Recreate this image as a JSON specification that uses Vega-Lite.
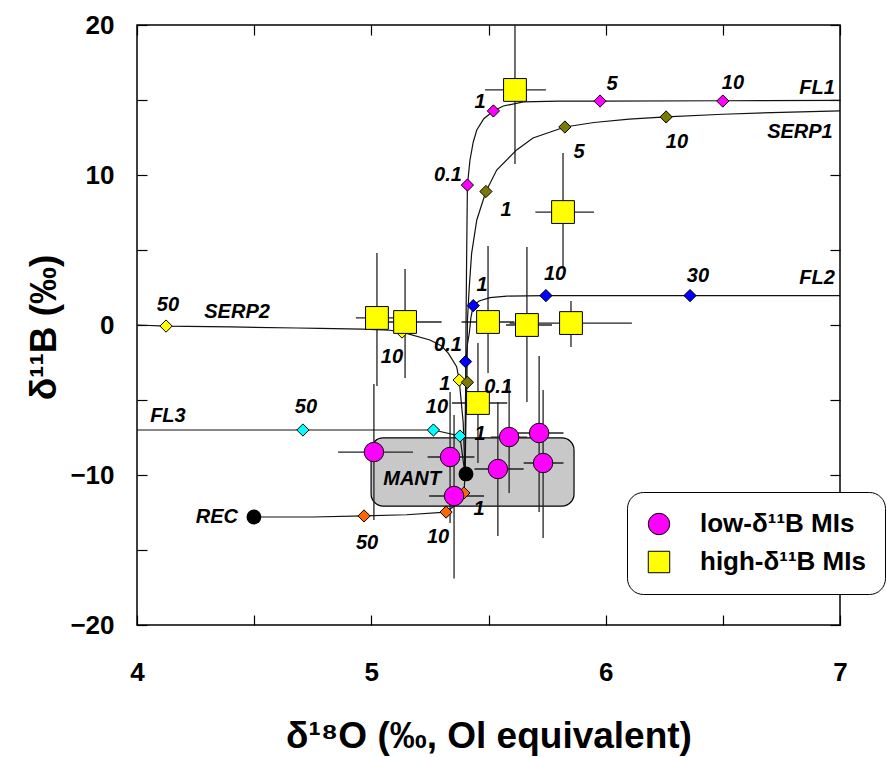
{
  "$schema": "https://vega.github.io/schema/vega-lite/v6.json",
  "width": 703,
  "height": 600,
  "autosize": {"type": "none"},
  "padding": {"left": 137, "top": 25, "right": 47, "bottom": 132},
  "config": {
    "font": "Liberation Sans",
    "view": {"stroke": "black", "strokeWidth": 1.5},
    "axis": {"grid": false, "domain": false}
  },
  "datasets": {
    "mant": [{"x1": 4.999, "x2": 5.865, "y1": -12.07, "y2": -7.53}],
    "curves": [
      {"s": "FL1", "i": 0, "x": 5.40, "y": -10}, {"s": "FL1", "i": 1, "x": 5.404, "y": 0}, {"s": "FL1", "i": 2, "x": 5.407, "y": 5}, {"s": "FL1", "i": 3, "x": 5.41, "y": 9.33}, {"s": "FL1", "i": 4, "x": 5.421, "y": 11.0}, {"s": "FL1", "i": 5, "x": 5.435, "y": 12.2}, {"s": "FL1", "i": 6, "x": 5.45, "y": 13.0}, {"s": "FL1", "i": 7, "x": 5.48, "y": 13.75}, {"s": "FL1", "i": 8, "x": 5.521, "y": 14.27}, {"s": "FL1", "i": 9, "x": 5.563, "y": 14.6}, {"s": "FL1", "i": 10, "x": 5.649, "y": 14.87}, {"s": "FL1", "i": 11, "x": 5.8, "y": 14.92}, {"s": "FL1", "i": 12, "x": 5.976, "y": 14.93}, {"s": "FL1", "i": 13, "x": 6.5, "y": 14.95}, {"s": "FL1", "i": 14, "x": 7.0, "y": 14.97},
      {"s": "SERP1", "i": 0, "x": 5.40, "y": -10}, {"s": "SERP1", "i": 1, "x": 5.404, "y": -6}, {"s": "SERP1", "i": 2, "x": 5.408, "y": -3.8}, {"s": "SERP1", "i": 3, "x": 5.41, "y": 0.3}, {"s": "SERP1", "i": 4, "x": 5.418, "y": 2.56}, {"s": "SERP1", "i": 5, "x": 5.428, "y": 4.78}, {"s": "SERP1", "i": 6, "x": 5.45, "y": 7.0}, {"s": "SERP1", "i": 7, "x": 5.489, "y": 8.9}, {"s": "SERP1", "i": 8, "x": 5.535, "y": 10.33}, {"s": "SERP1", "i": 9, "x": 5.62, "y": 11.67}, {"s": "SERP1", "i": 10, "x": 5.69, "y": 12.47}, {"s": "SERP1", "i": 11, "x": 5.826, "y": 13.2}, {"s": "SERP1", "i": 12, "x": 5.95, "y": 13.5}, {"s": "SERP1", "i": 13, "x": 6.1, "y": 13.72}, {"s": "SERP1", "i": 14, "x": 6.258, "y": 13.87}, {"s": "SERP1", "i": 15, "x": 6.5, "y": 14.05}, {"s": "SERP1", "i": 16, "x": 6.75, "y": 14.18}, {"s": "SERP1", "i": 17, "x": 7.0, "y": 14.27},
      {"s": "FL2", "i": 0, "x": 5.40, "y": -10}, {"s": "FL2", "i": 1, "x": 5.402, "y": -5}, {"s": "FL2", "i": 2, "x": 5.404, "y": -2.47}, {"s": "FL2", "i": 3, "x": 5.41, "y": -1.3}, {"s": "FL2", "i": 4, "x": 5.418, "y": -0.55}, {"s": "FL2", "i": 5, "x": 5.425, "y": 0.5}, {"s": "FL2", "i": 6, "x": 5.435, "y": 1.29}, {"s": "FL2", "i": 7, "x": 5.46, "y": 1.6}, {"s": "FL2", "i": 8, "x": 5.506, "y": 1.82}, {"s": "FL2", "i": 9, "x": 5.578, "y": 1.93}, {"s": "FL2", "i": 10, "x": 5.745, "y": 1.96}, {"s": "FL2", "i": 11, "x": 6.36, "y": 1.96}, {"s": "FL2", "i": 12, "x": 7.0, "y": 1.96},
      {"s": "SERP2", "i": 0, "x": 4.0, "y": 0.0}, {"s": "SERP2", "i": 1, "x": 4.124, "y": -0.07}, {"s": "SERP2", "i": 2, "x": 4.4, "y": -0.13}, {"s": "SERP2", "i": 3, "x": 4.683, "y": -0.2}, {"s": "SERP2", "i": 4, "x": 4.78, "y": -0.22}, {"s": "SERP2", "i": 5, "x": 4.96, "y": -0.27}, {"s": "SERP2", "i": 6, "x": 5.08, "y": -0.35}, {"s": "SERP2", "i": 7, "x": 5.131, "y": -0.47}, {"s": "SERP2", "i": 8, "x": 5.25, "y": -1.0}, {"s": "SERP2", "i": 9, "x": 5.30, "y": -1.4}, {"s": "SERP2", "i": 10, "x": 5.329, "y": -1.89}, {"s": "SERP2", "i": 11, "x": 5.364, "y": -2.78}, {"s": "SERP2", "i": 12, "x": 5.375, "y": -3.67}, {"s": "SERP2", "i": 13, "x": 5.392, "y": -6.5}, {"s": "SERP2", "i": 14, "x": 5.40, "y": -10},
      {"s": "FL3", "i": 0, "x": 4.0, "y": -7.0}, {"s": "FL3", "i": 1, "x": 4.708, "y": -7.0}, {"s": "FL3", "i": 2, "x": 5.265, "y": -7.0}, {"s": "FL3", "i": 3, "x": 5.378, "y": -7.4}, {"s": "FL3", "i": 4, "x": 5.40, "y": -10},
      {"s": "REC", "i": 0, "x": 4.499, "y": -12.8}, {"s": "REC", "i": 1, "x": 4.75, "y": -12.8}, {"s": "REC", "i": 2, "x": 4.969, "y": -12.73}, {"s": "REC", "i": 3, "x": 5.15, "y": -12.65}, {"s": "REC", "i": 4, "x": 5.319, "y": -12.47}, {"s": "REC", "i": 5, "x": 5.36, "y": -12.0}, {"s": "REC", "i": 6, "x": 5.395, "y": -11.2}, {"s": "REC", "i": 7, "x": 5.40, "y": -10}
    ],
    "diamonds": [
      {"s": "FL1", "x": 5.41, "y": 9.33}, {"s": "FL1", "x": 5.521, "y": 14.27}, {"s": "FL1", "x": 5.976, "y": 14.93}, {"s": "FL1", "x": 6.50, "y": 14.93},
      {"s": "SERP2", "x": 4.124, "y": -0.07}, {"s": "SERP2", "x": 5.131, "y": -0.47}, {"s": "SERP2", "x": 5.375, "y": -3.67},
      {"s": "SERP1", "x": 5.41, "y": -3.82}, {"s": "SERP1", "x": 5.489, "y": 8.9}, {"s": "SERP1", "x": 5.826, "y": 13.2}, {"s": "SERP1", "x": 6.258, "y": 13.87},
      {"s": "FL2", "x": 5.402, "y": -2.44}, {"s": "FL2", "x": 5.435, "y": 1.29}, {"s": "FL2", "x": 5.745, "y": 1.96}, {"s": "FL2", "x": 6.36, "y": 1.96},
      {"s": "FL3", "x": 4.708, "y": -7.0}, {"s": "FL3", "x": 5.265, "y": -7.0}, {"s": "FL3", "x": 5.378, "y": -7.4},
      {"s": "REC", "x": 4.969, "y": -12.73}, {"s": "REC", "x": 5.319, "y": -12.47}, {"s": "REC", "x": 5.395, "y": -11.2}
    ],
    "mis": [
      {"t": "high-δ¹¹B MIs", "x": 5.613, "y": 15.67, "x1": 5.485, "x2": 5.745, "y1": 10.73, "y2": 20},
      {"t": "high-δ¹¹B MIs", "x": 5.818, "y": 7.53, "x1": 5.70, "x2": 5.95, "y1": 3.8, "y2": 11.47},
      {"t": "high-δ¹¹B MIs", "x": 5.024, "y": 0.47, "x1": 4.934, "x2": 5.11, "y1": -4.07, "y2": 4.8},
      {"t": "high-δ¹¹B MIs", "x": 5.144, "y": 0.2, "x1": 4.986, "x2": 5.30, "y1": -3.53, "y2": 3.73},
      {"t": "high-δ¹¹B MIs", "x": 5.498, "y": 0.2, "x1": 5.385, "x2": 5.61, "y1": -3.2, "y2": 5.27},
      {"t": "high-δ¹¹B MIs", "x": 5.664, "y": 0.0, "x1": 5.575, "x2": 5.771, "y1": -5.13, "y2": 5.2},
      {"t": "high-δ¹¹B MIs", "x": 5.852, "y": 0.13, "x1": 5.59, "x2": 6.112, "y1": -1.47, "y2": 1.6},
      {"t": "high-δ¹¹B MIs", "x": 5.455, "y": -5.2, "x1": 5.344, "x2": 5.58, "y1": -9.2, "y2": -1.2},
      {"t": "low-δ¹¹B MIs", "x": 5.011, "y": -8.47, "x1": 4.858, "x2": 5.178, "y1": -13.0, "y2": -3.93},
      {"t": "low-δ¹¹B MIs", "x": 5.336, "y": -8.8, "x1": 5.24, "x2": 5.44, "y1": -13.2, "y2": -4.47},
      {"t": "low-δ¹¹B MIs", "x": 5.353, "y": -11.4, "x1": 5.246, "x2": 5.481, "y1": -16.9, "y2": -6.0},
      {"t": "low-δ¹¹B MIs", "x": 5.54, "y": -9.6, "x1": 5.44, "x2": 5.65, "y1": -14.07, "y2": -5.13},
      {"t": "low-δ¹¹B MIs", "x": 5.588, "y": -7.47, "x1": 5.51, "x2": 5.665, "y1": -11.2, "y2": -3.8},
      {"t": "low-δ¹¹B MIs", "x": 5.716, "y": -7.2, "x1": 5.61, "x2": 5.82, "y1": -12.47, "y2": -2.07},
      {"t": "low-δ¹¹B MIs", "x": 5.733, "y": -9.2, "x1": 5.65, "x2": 5.82, "y1": -14.2, "y2": -4.33}
    ],
    "ends": [{"n": "MANT", "x": 5.404, "y": -9.93}, {"n": "REC", "x": 4.499, "y": -12.8}],
    "names": [
      {"t": "FL1", "x": 6.902, "y": 15.8}, {"t": "SERP1", "x": 6.829, "y": 12.87}, {"t": "FL2", "x": 6.902, "y": 3.13},
      {"t": "SERP2", "x": 4.427, "y": 0.87}, {"t": "FL3", "x": 4.132, "y": -6.07}, {"t": "REC", "x": 4.341, "y": -12.8}, {"t": "MANT", "x": 5.174, "y": -10.27}
    ],
    "nums": [
      {"t": "0.1", "x": 5.327, "y": 10.0}, {"t": "1", "x": 5.464, "y": 14.87}, {"t": "5", "x": 6.027, "y": 16.07}, {"t": "10", "x": 6.543, "y": 16.13},
      {"t": "1", "x": 5.575, "y": 7.67}, {"t": "5", "x": 5.886, "y": 11.53}, {"t": "10", "x": 6.304, "y": 12.2}, {"t": "0.1", "x": 5.541, "y": -4.13},
      {"t": "1", "x": 5.473, "y": 2.67}, {"t": "10", "x": 5.784, "y": 3.4}, {"t": "30", "x": 6.394, "y": 3.27},
      {"t": "50", "x": 4.132, "y": 1.33}, {"t": "10", "x": 5.088, "y": -2.13}, {"t": "0.1", "x": 5.327, "y": -1.33}, {"t": "1", "x": 5.314, "y": -3.93},
      {"t": "50", "x": 4.721, "y": -5.47}, {"t": "10", "x": 5.28, "y": -5.47}, {"t": "1", "x": 5.464, "y": -7.27},
      {"t": "50", "x": 4.982, "y": -14.53}, {"t": "10", "x": 5.285, "y": -14.13}, {"t": "1", "x": 5.46, "y": -12.27}
    ]
  },
  "resolve": {"axis": {"x": "independent", "y": "independent"}},
  "layer": [
    {
      "data": {"name": "mant"},
      "mark": {"type": "rect", "cornerRadius": 12, "fill": "#c8c8c8", "stroke": "black", "strokeWidth": 1.2},
      "encoding": {
        "x": {"field": "x1", "type": "quantitative", "scale": {"domain": [4, 7], "nice": false, "zero": false},
          "axis": {"orient": "bottom", "values": [4, 4.5, 5, 5.5, 6, 6.5, 7], "labelExpr": "datum.value % 1 === 0 ? format(datum.value, 'd') : ''",
            "tickSize": -10, "tickColor": "black", "tickWidth": 1.2, "labelPadding": 44, "labelFontSize": 26, "labelFontWeight": "bold", "labelColor": "black",
            "labelFlush": false, "labelOverlap": false, "labelBound": false,
            "title": "δ¹⁸O (‰, Ol equivalent)", "titleFontSize": 37, "titleFontWeight": "bold", "titleColor": "black", "titleBaseline": "alphabetic", "titleY": 122}},
        "x2": {"field": "x2"},
        "y": {"field": "y1", "type": "quantitative", "scale": {"domain": [-20, 20], "nice": false, "zero": false},
          "axis": {"orient": "left", "values": [-20, -15, -10, -5, 0, 5, 10, 15, 20], "labelExpr": "datum.value % 10 === 0 ? format(datum.value, 'd') : ''",
            "tickSize": -10, "tickColor": "black", "tickWidth": 1.2, "labelPadding": 33, "labelFontSize": 26, "labelFontWeight": "bold", "labelColor": "black",
            "labelFlush": false, "labelOverlap": false, "labelBound": false,
            "title": "δ¹¹B (‰)", "titleFontSize": 37, "titleFontWeight": "bold", "titleColor": "black", "titleBaseline": "alphabetic", "titleAngle": -90, "titleX": -82, "titleY": 302}},
        "y2": {"field": "y2"}
      }
    },
    {
      "data": {"name": "mis"},
      "mark": {"type": "rule", "color": "#222", "strokeWidth": 1.3},
      "encoding": {
        "x": {"field": "x1", "type": "quantitative", "axis": {"orient": "top", "values": [4, 4.5, 5, 5.5, 6, 6.5, 7], "labels": false, "tickSize": -10, "tickColor": "black", "tickWidth": 1.2, "title": null}},
        "x2": {"field": "x2"},
        "y": {"field": "y", "type": "quantitative", "axis": {"orient": "right", "values": [-20, -15, -10, -5, 0, 5, 10, 15, 20], "labels": false, "tickSize": -10, "tickColor": "black", "tickWidth": 1.2, "title": null}}
      }
    },
    {
      "data": {"name": "mis"},
      "mark": {"type": "rule", "color": "#222", "strokeWidth": 1.3},
      "encoding": {
        "x": {"field": "x", "type": "quantitative", "axis": null},
        "y": {"field": "y1", "type": "quantitative", "axis": null},
        "y2": {"field": "y2"}
      }
    },
    {
      "data": {"name": "curves"},
      "mark": {"type": "line", "color": "#111", "strokeWidth": 1.2},
      "encoding": {
        "x": {"field": "x", "type": "quantitative", "axis": null},
        "y": {"field": "y", "type": "quantitative", "axis": null},
        "detail": {"field": "s"},
        "order": {"field": "i", "type": "quantitative"}
      }
    },
    {
      "data": {"name": "diamonds"},
      "mark": {"type": "point", "shape": "diamond", "filled": true, "size": 150, "stroke": "black", "strokeWidth": 1, "opacity": 1},
      "encoding": {
        "x": {"field": "x", "type": "quantitative", "axis": null},
        "y": {"field": "y", "type": "quantitative", "axis": null},
        "fill": {"field": "s", "type": "nominal", "legend": null,
          "scale": {"domain": ["FL1", "SERP1", "FL2", "SERP2", "FL3", "REC"], "range": ["#ff00ff", "#7a7a00", "#0000ff", "#ffff00", "#00ffff", "#ff6600"]}}
      }
    },
    {
      "data": {"name": "mis"},
      "transform": [{"filter": "datum.t == 'high-δ¹¹B MIs'"}],
      "mark": {"type": "point", "filled": true, "size": 520, "stroke": "black", "strokeWidth": 1, "opacity": 1},
      "encoding": {
        "x": {"field": "x", "type": "quantitative", "axis": null},
        "y": {"field": "y", "type": "quantitative", "axis": null},
        "color": {"field": "t", "type": "nominal", "scale": {"domain": ["low-δ¹¹B MIs", "high-δ¹¹B MIs"], "range": ["#ff00ff", "#ffff00"]},
          "legend": {"title": null, "orient": "none", "legendX": 490, "legendY": 467, "strokeColor": "black", "fillColor": "white", "cornerRadius": 16, "padding": 19,
            "labelFontSize": 26, "labelFontWeight": "bold", "labelColor": "black", "labelFont": "Liberation Sans", "symbolSize": 460, "symbolStrokeColor": "black", "symbolStrokeWidth": 1, "rowPadding": 12, "labelOffset": 28, "labelLimit": 300}},
        "shape": {"field": "t", "type": "nominal", "scale": {"domain": ["low-δ¹¹B MIs", "high-δ¹¹B MIs"], "range": ["circle", "square"]},
          "legend": {"title": null, "orient": "none", "legendX": 490, "legendY": 467, "strokeColor": "black", "fillColor": "white", "cornerRadius": 16, "padding": 19,
            "labelFontSize": 26, "labelFontWeight": "bold", "labelColor": "black", "labelFont": "Liberation Sans", "symbolSize": 460, "symbolStrokeColor": "black", "symbolStrokeWidth": 1, "rowPadding": 12, "labelOffset": 28, "labelLimit": 300}}
      }
    },
    {
      "data": {"name": "mis"},
      "transform": [{"filter": "datum.t == 'low-δ¹¹B MIs'"}],
      "mark": {"type": "point", "filled": true, "size": 380, "stroke": "black", "strokeWidth": 1, "opacity": 1},
      "encoding": {
        "x": {"field": "x", "type": "quantitative", "axis": null},
        "y": {"field": "y", "type": "quantitative", "axis": null},
        "color": {"field": "t", "type": "nominal"},
        "shape": {"field": "t", "type": "nominal"}
      }
    },
    {
      "data": {"name": "ends"},
      "mark": {"type": "point", "filled": true, "size": 220, "color": "black", "opacity": 1},
      "encoding": {
        "x": {"field": "x", "type": "quantitative", "axis": null},
        "y": {"field": "y", "type": "quantitative", "axis": null}
      }
    },
    {
      "data": {"name": "names"},
      "mark": {"type": "text", "fontSize": 20, "fontWeight": "bold", "fontStyle": "italic", "color": "black", "align": "center", "baseline": "middle"},
      "encoding": {
        "x": {"field": "x", "type": "quantitative", "axis": null},
        "y": {"field": "y", "type": "quantitative", "axis": null},
        "text": {"field": "t"}
      }
    },
    {
      "data": {"name": "nums"},
      "mark": {"type": "text", "fontSize": 20, "fontWeight": "bold", "fontStyle": "italic", "color": "black", "align": "center", "baseline": "middle"},
      "encoding": {
        "x": {"field": "x", "type": "quantitative", "axis": null},
        "y": {"field": "y", "type": "quantitative", "axis": null},
        "text": {"field": "t"}
      }
    }
  ]
}
